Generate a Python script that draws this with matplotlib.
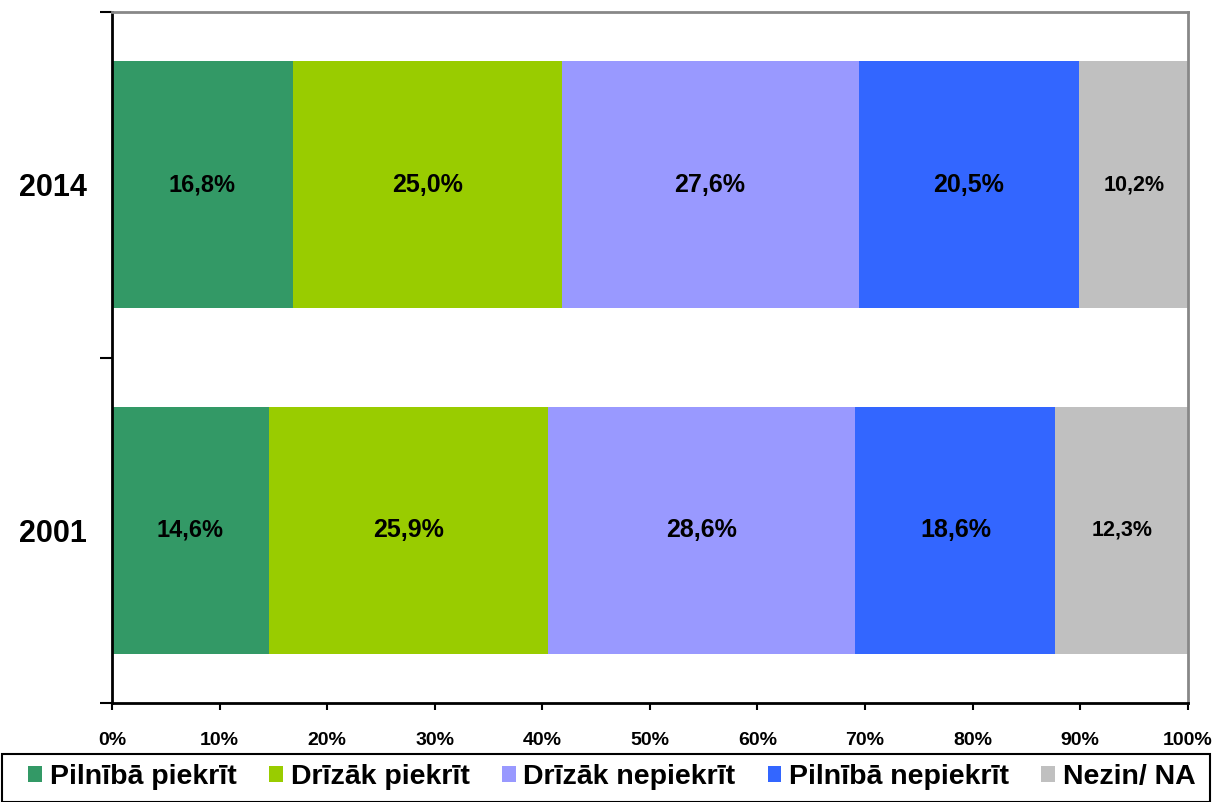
import numpy as np
import matplotlib
matplotlib.use('Agg')
import matplotlib.pyplot as plt
from matplotlib.patches import Patch, Rectangle

plt.rcParams['font.family'] = ['Liberation Sans', 'DejaVu Sans']

years = ['2001', '2014']
categories = ['Pilnībā piekrīt', 'Drīzāk piekrīt', 'Drīzāk nepiekrīt',
              'Pilnībā nepiekrīt', 'Nezin/ NA']
v2001 = [14.6, 25.9, 28.6, 18.6, 12.3]
v2014 = [16.8, 25.0, 27.6, 20.5, 10.2]
colors = ['#339966', '#99CC00', '#9999FF', '#3366FF', '#C0C0C0']
label_sizes = [17, 18, 18, 18, 15.5]

fig = plt.figure(figsize=(12.17, 8.02), dpi=100)
ax = fig.add_axes([0.092, 0.1234, 0.884, 0.8616])

data = np.array([v2001, v2014])
ypos = np.arange(len(years))
left = np.zeros(len(years))
for i, cat in enumerate(categories):
    vals = data[:, i]
    ax.barh(ypos, vals, left=left, height=0.715, color=colors[i], label=cat)
    for y, l, v in zip(ypos, left, vals):
        ax.text(l + v / 2, y, ('%.1f%%' % v).replace('.', ','),
                ha='center', va='center', fontsize=label_sizes[i],
                fontweight='bold')
    left = left + vals

ax.set_xlim(0, 100)
ax.set_ylim(-0.5, 1.5)
ax.set_xticks(np.arange(0, 101, 10))
ax.set_xticklabels(['%d%%' % t for t in range(0, 101, 10)],
                   fontsize=14, fontweight='bold')
ax.set_yticks(ypos)
ax.set_yticklabels(years, fontsize=22, fontweight='bold')
ax.set_yticks([-0.5, 0.5, 1.5], minor=True)
ax.tick_params(axis='y', which='major', length=0, pad=18)
ax.tick_params(axis='y', which='minor', length=9, width=1.5, direction='out')
ax.tick_params(axis='x', length=5, width=1.5, direction='out', pad=16)

for s in ['left', 'bottom']:
    ax.spines[s].set_linewidth(2)
    ax.spines[s].set_color('black')
for s in ['top', 'right']:
    ax.spines[s].set_linewidth(2)
    ax.spines[s].set_color('#888888')

# legend box
fig.patches.append(Rectangle((2 / 1217, 0.0), 1208 / 1217, 48 / 802,
                             transform=fig.transFigure, fill=False,
                             edgecolor='black', linewidth=1.5))
handles = [Patch(facecolor=c, edgecolor='none') for c in colors]
leg = fig.legend(handles, categories, loc='center',
                 bbox_to_anchor=(0.503, 0.031), ncol=5, frameon=False,
                 handlelength=0.49, handleheight=0.5, handletextpad=0.28,
                 columnspacing=1.12, borderpad=0.0,
                 prop={'size': 20.5, 'weight': 'bold'})

fig.savefig('out.png', dpi=100)
